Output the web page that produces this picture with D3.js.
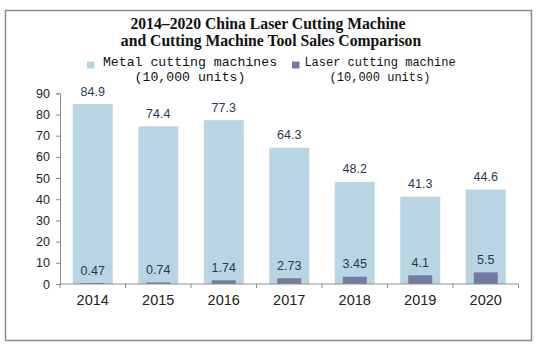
<!DOCTYPE html>
<html>
<head>
<meta charset="utf-8">
<script src="https://cdn.jsdelivr.net/npm/d3@7"></script>
<style>
  body { margin: 0; background: #fff; }
  svg { display: block; }
</style>
</head>
<body>
<div id="chart"></div>
<script>
// data
const years = ['2014', '2015', '2016', '2017', '2018', '2019', '2020'];
const metalCutting = [84.9, 74.4, 77.3, 64.3, 48.2, 41.3, 44.6];
const laserCutting = [0.47, 0.74, 1.74, 2.73, 3.45, 4.1, 5.5];
const yTicks = [0, 10, 20, 30, 40, 50, 60, 70, 80, 90];

const width = 543, height = 351;
const lightColor = '#b9d5e4', darkColor = '#747ba1', labelColor = '#1f3a55';

let svg = d3.select('#chart')
    .append('svg')
    .attr('width', width)
    .attr('height', height);

// frame
svg.append('rect')
    .attr('x', 5.5).attr('y', 10.5)
    .attr('width', 526).attr('height', 330)
    .attr('fill', 'none')
    .attr('stroke', '#8c8c8c')
    .attr('stroke-width', 1.5);

// title
let title = svg.append('text')
    .attr('text-anchor', 'middle')
    .style('font-family', '"Liberation Serif", "Times New Roman", serif')
    .style('font-weight', 'bold')
    .style('font-size', '15.7px')
    .attr('fill', '#111');
title.append('tspan').attr('x', 268).attr('y', 29).text('2014\u20132020 China Laser Cutting Machine');
title.append('tspan').attr('x', 271).attr('y', 45.5).text('and Cutting Machine Tool Sales Comparison');

// legend
const legendItems = [
    {color: lightColor, lines: ['Metal cutting machines', '(10,000 units)'], sx: 87, cx: 190, size: 13.2},
    {color: darkColor, lines: ['Laser cutting machine', '(10,000 units)'], sx: 292, cx: 380, size: 12}
];
legendItems.forEach(item => {
    svg.append('rect')
        .attr('x', item.sx).attr('y', 61.5)
        .attr('width', 7.5).attr('height', 7)
        .attr('fill', item.color);
    let t = svg.append('text')
        .attr('text-anchor', 'middle')
        .style('font-family', '"Liberation Mono", "DejaVu Sans Mono", monospace')
        .style('font-size', item.size + 'px')
        .attr('fill', '#111');
    t.append('tspan').attr('x', item.cx).attr('y', 65.5).text(item.lines[0]);
    t.append('tspan').attr('x', item.cx).attr('y', 81).text(item.lines[1]);
});

// scales
var x = d3.scaleBand()
    .domain(years)
    .range([60, 518.5])
    .paddingInner(0)
    .paddingOuter(0);

var y = d3.scaleLinear()
    .domain([0, 90])
    .range([284, 93.3]);

const lightW = 40, darkW = 24;

// light bars
svg.selectAll('rect.metal')
    .data(metalCutting)
    .enter()
    .append('rect')
    .attr('class', 'metal')
    .attr('x', (d, i) => x(years[i]) + x.bandwidth() / 2 - lightW / 2)
    .attr('y', d => y(d))
    .attr('width', lightW)
    .attr('height', d => y(0) - y(d))
    .attr('fill', lightColor);

// dark bars
svg.selectAll('rect.laser')
    .data(laserCutting)
    .enter()
    .append('rect')
    .attr('class', 'laser')
    .attr('x', (d, i) => x(years[i]) + x.bandwidth() / 2 - darkW / 2)
    .attr('y', d => y(d))
    .attr('width', darkW)
    .attr('height', d => y(0) - y(d))
    .attr('fill', darkColor);

// value labels
const labelFont = '"Liberation Sans", Arial, sans-serif';
svg.selectAll('text.metalLabel')
    .data(metalCutting)
    .enter()
    .append('text')
    .attr('class', 'metalLabel')
    .attr('x', (d, i) => x(years[i]) + x.bandwidth() / 2)
    .attr('y', d => y(d) - 8.5)
    .attr('text-anchor', 'middle')
    .style('font-family', labelFont)
    .style('font-size', '12.5px')
    .attr('fill', labelColor)
    .text(d => d);

svg.selectAll('text.laserLabel')
    .data(laserCutting)
    .enter()
    .append('text')
    .attr('class', 'laserLabel')
    .attr('x', (d, i) => x(years[i]) + x.bandwidth() / 2)
    .attr('y', d => y(d) - 8.5)
    .attr('text-anchor', 'middle')
    .style('font-family', labelFont)
    .style('font-size', '12.5px')
    .attr('fill', labelColor)
    .text(d => d);

// y axis
let yAxis = svg.append('g')
    .attr('transform', 'translate(60,0)')
    .call(d3.axisLeft(y).tickValues(yTicks).tickSize(4).tickPadding(6));
yAxis.selectAll('text')
    .style('font-family', labelFont)
    .style('font-size', '12.5px')
    .attr('fill', '#222');

// x axis - ticks sit on the band edges
let xAxis = svg.append('g')
    .attr('transform', 'translate(0,284)');
xAxis.append('line')
    .attr('x1', 60).attr('x2', 518.5)
    .attr('stroke', '#8c8c8c');
xAxis.selectAll('line.tick')
    .data(years.concat(['end']))
    .enter()
    .append('line')
    .attr('class', 'tick')
    .attr('x1', (d, i) => 60 + i * x.bandwidth())
    .attr('x2', (d, i) => 60 + i * x.bandwidth())
    .attr('y1', 0).attr('y2', 4)
    .attr('stroke', '#8c8c8c');
xAxis.selectAll('text')
    .data(years)
    .enter()
    .append('text')
    .attr('x', d => x(d) + x.bandwidth() / 2)
    .attr('y', 21)
    .attr('text-anchor', 'middle')
    .style('font-family', labelFont)
    .style('font-size', '14.5px')
    .attr('fill', '#222')
    .text(d => d);

yAxis.select('.domain').attr('stroke', '#8c8c8c');
yAxis.selectAll('.tick line').attr('stroke', '#8c8c8c');
</script>
</body>
</html>
